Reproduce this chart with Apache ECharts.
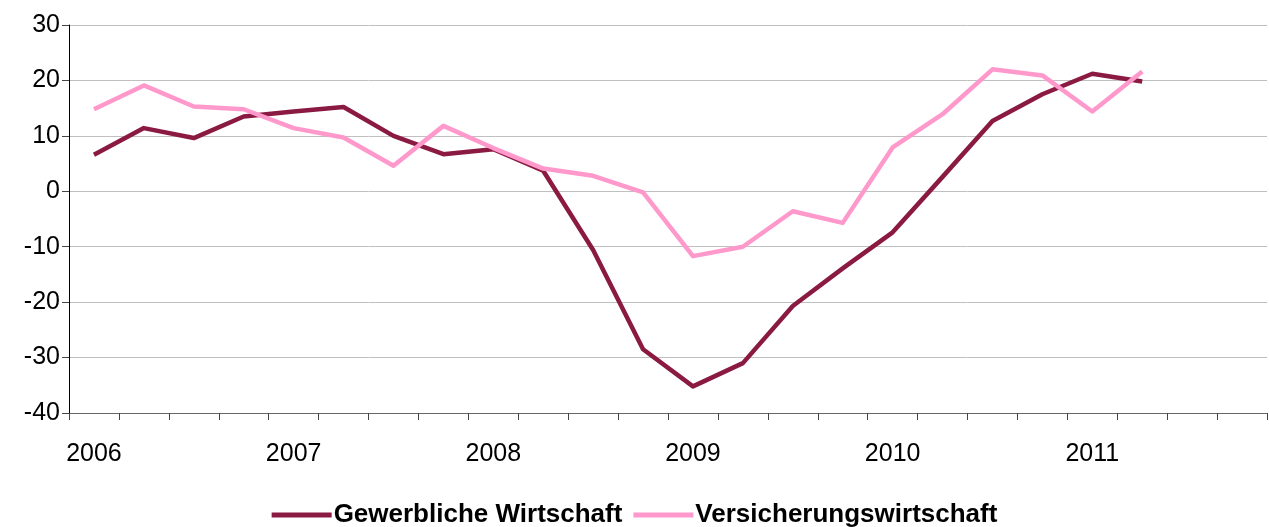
<!DOCTYPE html>
<html>
<head>
<meta charset="utf-8">
<script src="https://cdn.jsdelivr.net/npm/echarts@6/dist/echarts.min.js"></script>
<style>
  html, body { margin: 0; padding: 0; background: #fff; }
  #chart { width: 1269px; height: 527px; }
</style>
</head>
<body>
<div id="chart"></div>
<script>
// quarters 2006 Q1 .. 2011 Q4
var categories = [
  '2006 Q1', '2006 Q2', '2006 Q3', '2006 Q4',
  '2007 Q1', '2007 Q2', '2007 Q3', '2007 Q4',
  '2008 Q1', '2008 Q2', '2008 Q3', '2008 Q4',
  '2009 Q1', '2009 Q2', '2009 Q3', '2009 Q4',
  '2010 Q1', '2010 Q2', '2010 Q3', '2010 Q4',
  '2011 Q1', '2011 Q2', '2011 Q3', '2011 Q4'
]
var gewerbliche = [
  6.6, 11.4, 9.6, 13.5, 14.4, 15.2, 10.0, 6.7, 7.6, 3.7, -10.6, -28.5,
  -35.2, -31.0, -20.7, -13.9, -7.4, 2.6, 12.7, 17.5, 21.2, 19.8, null, null
]
var versicherung = [
  14.8, 19.1, 15.3, 14.8, 11.4, 9.7, 4.6, 11.8, 7.8, 4.1, 2.8, -0.2,
  -11.7, -10.0, -3.6, -5.7, 7.9, 13.9, 22.0, 20.9, 14.4, 21.6, null, null
]
var seriesNames = ['Gewerbliche Wirtschaft', 'Versicherungswirtschaft']
var yTicks = { min: -40, max: 30, step: 10 }

var chart = echarts.init(document.getElementById('chart'))
chart.setOption({
  animation: false,
  textStyle: { fontFamily: 'Liberation Sans, Arial, sans-serif' },
  color: ['#8b1a42', '#ff99cc'],
  grid: {
    left: 69,
    right: 2,
    top: 25,
    bottom: 114
  },
  legend: {
    data: seriesNames,
    left: 'center',
    top: 497,
    itemWidth: 60,
    itemHeight: 5,
    itemGap: 11,
    icon: 'rect',
    textStyle: {
      fontSize: 26,
      fontWeight: 'bold',
      color: '#000',
      padding: [0, 0, 0, -3]
    }
  },
  xAxis: {
    type: 'category',
    data: categories,
    boundaryGap: true,
    axisLine: { onZero: false, lineStyle: { color: '#666', width: 1 } },
    axisTick: { show: true, interval: 0, length: 7, lineStyle: { color: '#444' } },
    axisLabel: {
      interval: 3,
      margin: 29,
      fontSize: 25,
      color: '#000',
      formatter: function (v) { return v.slice(0, 4) } // year only
    },
    splitLine: { show: false }
  },
  yAxis: {
    type: 'value',
    min: yTicks.min,
    max: yTicks.max,
    interval: yTicks.step,
    axisLine: { show: true, lineStyle: { color: '#000', width: 1 } },
    axisTick: { show: true, length: 7, lineStyle: { color: '#444' } },
    axisLabel: { margin: 9, fontSize: 25, color: '#000' },
    splitLine: { lineStyle: { color: '#c0c0c0', width: 1 } }
  },
  series: [
    {
      name: seriesNames[0],
      type: 'line',
      data: gewerbliche,
      showSymbol: false,
      lineStyle: { width: 4.5, join: 'round' }
    },
    {
      name: seriesNames[1],
      type: 'line',
      data: versicherung,
      showSymbol: false,
      lineStyle: { width: 4.5, join: 'round' }
    }
  ]
})
window.addEventListener('resize', function () { chart.resize() })
</script>
</body>
</html>
